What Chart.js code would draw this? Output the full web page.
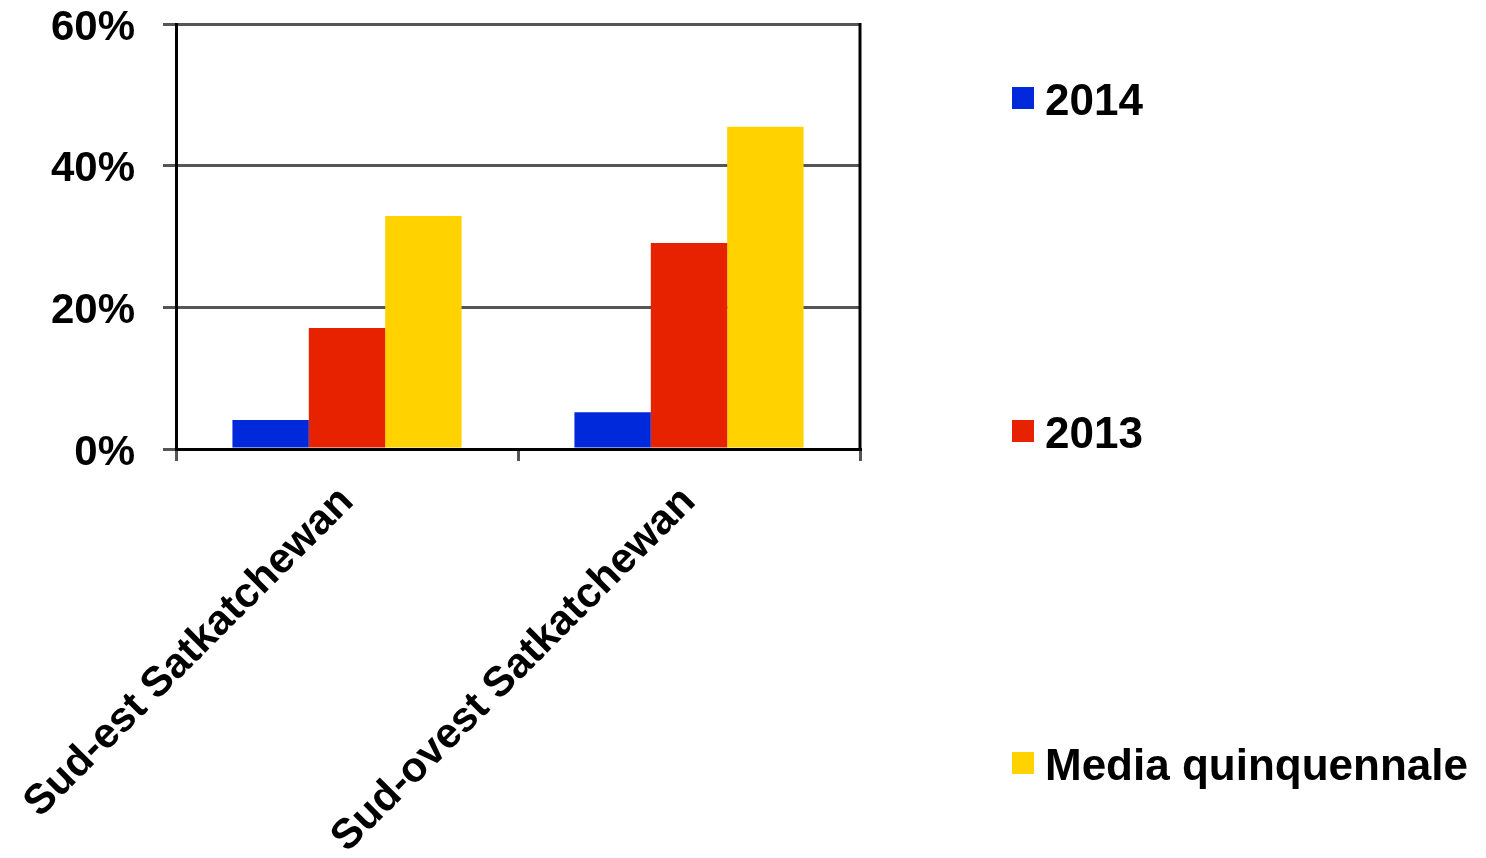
<!DOCTYPE html>
<html>
<head>
<meta charset="utf-8">
<script src="https://cdn.jsdelivr.net/npm/chart.js@4.4.1/dist/chart.umd.min.js"></script>
<style>
  html, body { margin: 0; padding: 0; background: #fff; }
  #wrap { position: relative; width: 1486px; height: 858px; overflow: hidden; }
  #legend { position: absolute; left: 1012px; top: 0; }
  .item { position: absolute; left: 0; height: 50px; display: flex; align-items: center; white-space: nowrap;
          font: bold 44px "Liberation Sans", Arial, sans-serif; color: #000; }
  .sw { width: 22px; height: 22px; margin-right: 11px; margin-top: -4px; }
</style>
</head>
<body>
<div id="wrap">
  <canvas id="chart" width="1486" height="858"></canvas>
  <div id="legend"></div>
</div>
<script>
const regioni = ["Sud-est Satkatchewan", "Sud-ovest Satkatchewan"];
const serieLabels = ["2014", "2013", "Media quinquennale"];
const val2014 = [4.1, 5.2];
const val2013 = [17.1, 29.1];
const valMedia = [32.9, 45.5];
const serieColori = ["#0029DB", "#E62200", "#FFD200"];
const legendaCentri = [100, 433, 765];

const FONT = "\"Liberation Sans\", Arial, sans-serif";

// bordo nero a destra dell'area del grafico
const bordoDestro = {
  id: "bordoDestro",
  afterDraw(chart) {
    const { ctx, chartArea } = chart;
    ctx.save();
    ctx.strokeStyle = "#000";
    ctx.lineWidth = 3;
    ctx.beginPath();
    ctx.moveTo(chartArea.right, chartArea.top - 1);
    ctx.lineTo(chartArea.right, chartArea.bottom);
    ctx.stroke();
    ctx.restore();
  }
};

const serieDati = [val2014, val2013, valMedia];

new Chart(document.getElementById("chart"), {
  type: "bar",
  data: {
    labels: regioni,
    datasets: serieLabels.map((label, i) => ({
      label,
      data: serieDati[i],
      backgroundColor: serieColori[i],
      borderWidth: 0
    }))
  },
  options: {
    responsive: false,
    animation: false,
    layout: { padding: { left: 0, top: 24, right: 626, bottom: 0 } },
    datasets: { bar: { categoryPercentage: 0.67, barPercentage: 1.0 } },
    plugins: {
      legend: { display: false },
      tooltip: { enabled: false }
    },
    scales: {
      y: {
        min: 0,
        max: 60,
        afterFit: (s) => {
          s.width = 176;
          s.paddingTop = 0;
          s.paddingBottom = 0;
        },
        ticks: {
          stepSize: 20,
          callback: (v) => `${v}%`,
          color: "#000",
          padding: 28,
          labelOffset: 4,
          font: { family: FONT, size: 42, weight: "bold" }
        },
        grid: { color: "#555", lineWidth: 3, tickLength: 13 },
        border: { color: "#000", width: 3 }
      },
      x: {
        offset: true,
        afterFit: (s) => {
          s.height = 858 - 449;
          s.paddingLeft = 0;
          s.paddingRight = 0;
        },
        ticks: {
          minRotation: 45,
          maxRotation: 45,
          color: "#000",
          padding: 16,
          font: { family: FONT, size: 42, weight: "bold" }
        },
        grid: { offset: true, drawOnChartArea: false, drawTicks: true, tickLength: 12, color: "#555", lineWidth: 3 },
        border: { color: "#000", width: 3 }
      }
    }
  },
  plugins: [bordoDestro]
});

const legend = document.getElementById("legend");
serieLabels.forEach((label, i) => {
  const item = document.createElement("div");
  item.className = "item";
  item.style.top = (legendaCentri[i] - 25) + "px";
  const sw = document.createElement("span");
  sw.className = "sw";
  sw.style.background = serieColori[i];
  const txt = document.createElement("span");
  txt.textContent = label;
  item.appendChild(sw);
  item.appendChild(txt);
  legend.appendChild(item);
});
</script>
</body>
</html>
